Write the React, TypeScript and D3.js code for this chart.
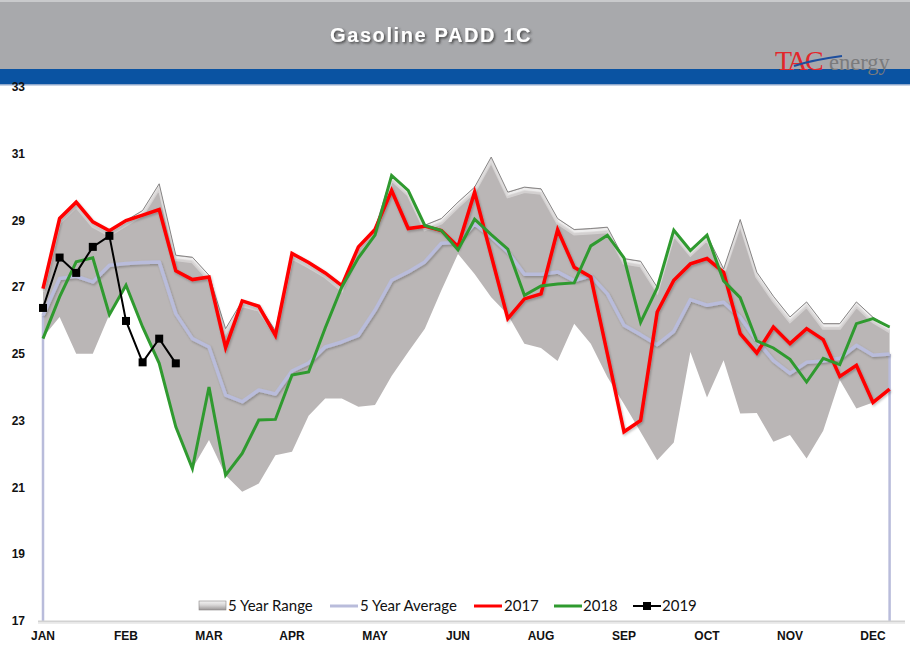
import React from 'react';
import * as d3 from 'd3';

const monthLabels = ['JAN', 'FEB', 'MAR', 'APR', 'MAY', 'JUN', 'AUG', 'SEP', 'OCT', 'NOV', 'DEC'];
const yTicks = [17, 19, 21, 23, 25, 27, 29, 31, 33];

const rangeHigh = [
  27.0, 29.06, 29.55, 28.96, 28.69, 29.0, 29.3, 30.1, 27.96, 27.9,
  27.36, 25.76, 26.59, 26.45, 25.7, 28.01, 27.74, 27.45, 27.04, 28.21,
  28.76, 30.35, 29.9, 28.86, 29.06, 29.55, 30.0, 30.9, 29.85, 30.0,
  29.95, 29.06, 28.73, 28.76, 28.8, 27.86, 27.78, 27.0, 28.7, 28.1,
  28.56, 27.55, 29.03, 27.45, 26.73, 26.11, 26.56, 25.91, 25.91, 26.56,
  26.1, 25.8,
];
const rangeLow = [
  25.5, 26.11, 25.01, 25.01, 26.18, 27.06, 25.81, 24.72, 22.82, 21.57,
  22.42, 21.37, 20.87, 21.12, 21.97, 22.07, 23.15, 23.67, 23.67, 23.42,
  23.47, 24.34, 25.06, 25.76, 26.91, 28.0, 27.4, 26.7, 26.18, 25.31,
  25.18, 24.79, 25.91, 25.31, 24.31, 23.5, 22.66, 21.82, 22.35, 25.06,
  23.7, 24.81, 23.22, 23.23, 22.37, 22.57, 21.87, 22.7, 24.22, 23.37,
  23.55, 23.95,
];
const avg5 = [
  26.16, 27.26, 27.33, 27.16, 27.66, 27.71, 27.74, 27.76, 26.21, 25.46,
  25.21, 23.77, 23.57, 23.92, 23.8, 24.49, 24.73, 25.21, 25.36, 25.56,
  26.31, 27.21, 27.46, 27.76, 28.32, 28.35, 28.9, 28.51, 28.06, 27.39,
  27.39, 27.46, 27.2, 27.34, 26.8, 25.86, 25.58, 25.28, 25.68, 26.63,
  26.46, 26.55, 26.1, 25.4, 24.8, 24.42, 24.75, 24.79, 24.87, 25.26,
  24.96, 25.0,
];
const y2017 = [
  26.96, 29.06, 29.55, 28.96, 28.69, 29.0, 29.16, 29.33, 27.49, 27.23,
  27.31, 25.19, 26.59, 26.43, 25.56, 28.01, 27.74, 27.43, 27.05, 28.21,
  28.73, 29.9, 28.76, 28.83, 28.7, 28.22, 29.85, 27.95, 26.06, 26.65,
  26.8, 28.72, 27.6, 27.31, 25.0, 22.67, 23.01, 26.26, 27.21, 27.7,
  27.86, 27.45, 25.61, 25.03, 25.81, 25.31, 25.76, 25.43, 24.33, 24.66,
  23.55, 23.95,
];
const y2018 = [
  25.46, 26.71, 27.76, 27.88, 26.18, 27.06, 25.81, 24.72, 22.82, 21.57,
  24.01, 21.37, 22.02, 23.02, 23.04, 24.37, 24.46, 25.78, 27.01, 27.88,
  28.56, 30.35, 29.9, 28.85, 28.7, 28.12, 29.04, 28.58, 28.14, 26.76,
  27.04, 27.1, 27.13, 28.24, 28.56, 27.88, 25.95, 26.98, 28.71, 28.1,
  28.56, 27.19, 26.69, 25.39, 25.18, 24.84, 24.16, 24.87, 24.68, 25.91,
  26.06, 25.81,
];
const y2019 = [26.38, 27.89, 27.43, 28.21, 28.54, 25.99, 24.75, 25.46, 24.72];

const FONT_AX = "'Liberation Sans', Arial, sans-serif";
const FONT_LEG = "Lato, 'Open Sans', sans-serif";
const FONT_LOGO = "'Liberation Serif', 'DejaVu Serif', serif";

export default function App() {
  const W = 910;
  const H = 659;
  const weeks = d3.range(rangeHigh.length);
  const x = d3.scalePoint<number>().domain(weeks).range([43, 889.6]);
  const y = d3.scaleLinear().domain([17, 33]).range([621, 87]);

  const lineGen = d3
    .line<number>()
    .x((_, i) => x(i) as number)
    .y((d) => y(d));
  const areaGen = d3
    .area<number>()
    .x((_, i) => x(i) as number)
    .y0((_, i) => y(rangeLow[i]))
    .y1((d) => y(d));

  const areaPath = areaGen(rangeHigh) || '';
  const topPath = lineGen(rangeHigh) || '';
  const x0 = x(0) as number;
  const xN = x(weeks.length - 1) as number;

  const legendY = 606;

  return (
    <svg
      width={W}
      height={H}
      style={{ position: 'absolute', left: 0, top: 0, background: '#fff' }}
    >
      <defs>
        <filter id="shadow" x="-5%" y="-5%" width="110%" height="120%">
          <feDropShadow dx="1" dy="1.5" stdDeviation="1" floodColor="#000" floodOpacity="0.25" />
        </filter>
        <filter id="tshadow" x="-5%" y="-20%" width="110%" height="150%">
          <feDropShadow dx="1.5" dy="1.5" stdDeviation="0.8" floodColor="#333" floodOpacity="0.8" />
        </filter>
        <clipPath id="bandClip">
          <path d={areaPath} />
        </clipPath>
        <linearGradient id="legSw" x1="0" y1="0" x2="0" y2="1">
          <stop offset="0" stopColor="#f4f4f4" />
          <stop offset="0.45" stopColor="#d8d6d6" />
          <stop offset="1" stopColor="#9a9696" />
        </linearGradient>
      </defs>

      {/* header */}
      <rect x={0} y={0} width={W} height={69} fill="#a8a9ac" />
      <rect x={0} y={0} width={W} height={2} fill="#c9cacc" />
      <rect x={0} y={69} width={W} height={15} fill="#0a53a2" />
      <rect x={0} y={84} width={W} height={1.5} fill="#8fa8cc" />
      <text
        x={431}
        y={42}
        textAnchor="middle"
        fill="#fff"
        fontFamily={FONT_AX}
        fontWeight="bold"
        fontSize={20}
        letterSpacing={1.6}
        filter="url(#tshadow)"
      >
        Gasoline PADD 1C
      </text>
      {/* logo */}
      <g>
        <text x={775} y={70} fill="#e3262b" fontFamily={FONT_LOGO} fontSize={28} letterSpacing={-2.5}>
          TAC
        </text>
        <path d="M 794 66 Q 812 60 842 56" stroke="#1d4e9e" strokeWidth={2} fill="none" />
        <text x={829} y={70} fill="#7a7b7d" fontFamily={FONT_LOGO} fontSize={22.5}>
          energy
        </text>
      </g>

      {/* range band */}
      <path d={areaPath} fill="#bab6b6" />
      <g clipPath="url(#bandClip)">
        <path d={topPath} fill="none" stroke="#ffffff" strokeOpacity={0.75} strokeWidth={3} transform="translate(0,2.2)" />
        <path d={topPath} fill="none" stroke="#d9d7d7" strokeOpacity={0.8} strokeWidth={3} transform="translate(0,4.5)" />
      </g>
      <path d={topPath} fill="none" stroke="#7d7a7a" strokeWidth={0.9} />

      {/* end drop lines of the average */}
      <line x1={x0} x2={x0} y1={y(avg5[0])} y2={621} stroke="#b9bcdb" strokeWidth={2.5} />
      <line x1={xN} x2={xN} y1={y(avg5[avg5.length - 1])} y2={621} stroke="#b9bcdb" strokeWidth={2.5} />

      {/* bottom axis line */}
      <line x1={38} x2={905} y1={621.5} y2={621.5} stroke="#d2d2d2" strokeWidth={2} />
      <line x1={38} x2={905} y1={623.5} y2={623.5} stroke="#ececec" strokeWidth={1} />

      {/* series */}
      <path d={lineGen(avg5) || ''} fill="none" stroke="#b9bcdb" strokeWidth={3.5} strokeLinejoin="round" filter="url(#shadow)" />
      <path d={lineGen(y2017) || ''} fill="none" stroke="#ff0000" strokeWidth={3.5} strokeLinejoin="miter" filter="url(#shadow)" />
      <path d={lineGen(y2018) || ''} fill="none" stroke="#2f9a2f" strokeWidth={3} strokeLinejoin="miter" />
      <path d={lineGen(y2019) || ''} fill="none" stroke="#000" strokeWidth={2} />
      {y2019.map((v, i) => (
        <rect key={i} x={(x(i) as number) - 4} y={y(v) - 4} width={8} height={8} fill="#000" />
      ))}

      {/* y axis labels */}
      {yTicks.map((t) => (
        <text
          key={t}
          x={25}
          y={y(t)}
          dy="0.35em"
          textAnchor="end"
          fontFamily={FONT_AX}
          fontWeight="bold"
          fontSize={12}
          fill="#111"
        >
          {t}
        </text>
      ))}

      {/* x axis labels */}
      {monthLabels.map((m, k) => (
        <text
          key={m}
          x={x(k * 5) as number}
          y={636}
          dy="0.35em"
          textAnchor="middle"
          fontFamily={FONT_AX}
          fontWeight="bold"
          fontSize={12}
          fill="#111"
        >
          {m}
        </text>
      ))}

      {/* legend */}
      <g fontFamily={FONT_LEG} fontSize={15} fill="#111">
        <rect x={199} y={legendY - 5} width={27} height={9} fill="url(#legSw)" stroke="#8a8787" strokeWidth={0.6} />
        <text x={228} y={legendY} dy="0.35em">5 Year Range</text>

        <line x1={330} x2={358} y1={legendY} y2={legendY} stroke="#b9bcdb" strokeWidth={3} />
        <text x={360} y={legendY} dy="0.35em">5 Year Average</text>

        <line x1={474} x2={502} y1={legendY} y2={legendY} stroke="#ff0000" strokeWidth={3} />
        <text x={504} y={legendY} dy="0.35em">2017</text>

        <line x1={554} x2={582} y1={legendY} y2={legendY} stroke="#2f9a2f" strokeWidth={3} />
        <text x={583} y={legendY} dy="0.35em">2018</text>

        <line x1={633} x2={661} y1={legendY} y2={legendY} stroke="#000" strokeWidth={2} />
        <rect x={643} y={legendY - 4} width={8} height={8} fill="#000" />
        <text x={662} y={legendY} dy="0.35em">2019</text>
      </g>
    </svg>
  );
}
